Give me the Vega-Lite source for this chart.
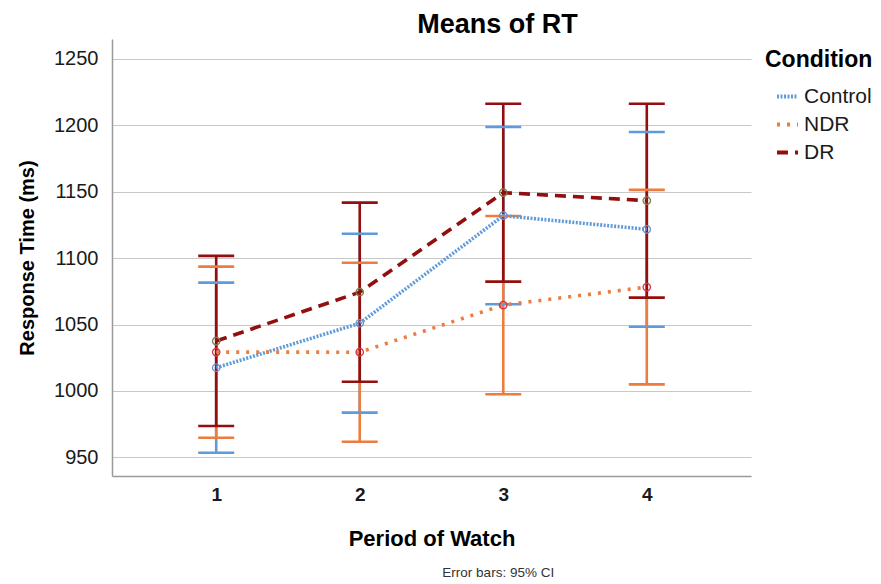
{
  "$schema": "https://vega.github.io/schema/vega-lite/v6.json",
  "padding": {"left": 17, "top": 11, "right": 0, "bottom": 0},
  "background": "white",
  "config": {
    "font": "Liberation Sans",
    "view": {"stroke": null},
    "axis": {"labelFont": "Liberation Sans", "titleFont": "Liberation Sans", "labelColor": "#1a1a1a", "titleColor": "#000000", "domainColor": "#9a9a9a", "domainWidth": 1.5, "ticks": false, "gridColor": "#c8c8c8", "gridWidth": 1.2}
  },
  "datasets": {
    "rt": [
      {"period": 1, "condition": "Control", "mean": 1017.5, "lo": 953.5, "hi": 1081.6},
      {"period": 2, "condition": "Control", "mean": 1051.0, "lo": 983.7, "hi": 1118.4},
      {"period": 3, "condition": "Control", "mean": 1132.0, "lo": 1065.3, "hi": 1198.8},
      {"period": 4, "condition": "Control", "mean": 1121.7, "lo": 1048.4, "hi": 1195.0},
      {"period": 1, "condition": "NDR", "mean": 1029.3, "lo": 964.8, "hi": 1093.6},
      {"period": 2, "condition": "NDR", "mean": 1029.2, "lo": 961.8, "hi": 1096.6},
      {"period": 3, "condition": "NDR", "mean": 1064.7, "lo": 997.5, "hi": 1131.8},
      {"period": 4, "condition": "NDR", "mean": 1078.2, "lo": 1005.0, "hi": 1151.4},
      {"period": 1, "condition": "DR", "mean": 1037.6, "lo": 973.6, "hi": 1101.7},
      {"period": 2, "condition": "DR", "mean": 1074.4, "lo": 1007.0, "hi": 1141.8},
      {"period": 3, "condition": "DR", "mean": 1149.3, "lo": 1082.3, "hi": 1216.3},
      {"period": 4, "condition": "DR", "mean": 1143.3, "lo": 1070.3, "hi": 1216.3}
    ]
  },
  "title": {"text": "Error bars: 95% CI", "orient": "bottom", "anchor": "middle", "fontSize": 13.5, "fontWeight": "normal", "color": "#333333", "font": "Liberation Sans", "dx": 53, "offset": 17},
  "vconcat": [
    {
      "width": 639,
      "height": 437,
      "title": {"text": "Means of RT", "fontSize": 27, "fontWeight": "bold", "color": "#000000", "anchor": "middle", "dx": 66, "offset": 0, "font": "Liberation Sans"},
      "data": {"name": "rt"},
      "encoding": {
        "x": {"field": "period", "type": "ordinal", "scale": {"type": "point", "padding": 0.726},
          "axis": {"labelAngle": 0, "labelFontSize": 19, "labelFontWeight": "bold", "labelPadding": 9, "title": "Period of Watch", "titleFontSize": 22, "titleFontWeight": "bold", "titlePadding": 24, "grid": false}}
      },
      "layer": [
        {
          "mark": {"type": "rule", "strokeWidth": 2.6},
          "encoding": {
            "y": {"field": "lo", "type": "quantitative", "scale": {"domain": [936, 1265], "nice": false, "zero": false},
              "axis": {"values": [950, 1000, 1050, 1100, 1150, 1200, 1250], "format": "d", "labelFontSize": 20, "labelPadding": 14, "title": "Response Time (ms)", "titleFontSize": 20, "titleFontWeight": "bold", "titlePadding": 16}},
            "y2": {"field": "hi"},
            "color": {"field": "condition", "type": "nominal", "scale": {"domain": ["Control", "NDR", "DR"], "range": ["#5f9bd8", "#ec7d3f", "#930f0f"]},
              "legend": {"title": "Condition", "orient": "none", "legendX": 653, "legendY": 10, "titleFontSize": 23, "titleFontWeight": "bold", "titleColor": "#000000", "titlePadding": 12, "labelFontSize": 21, "labelColor": "#1a1a1a", "symbolType": "stroke", "symbolSize": 441, "symbolStrokeWidth": 4, "symbolOffset": 10, "labelOffset": 4, "rowPadding": 5}}
          }
        },
        {
          "mark": {"type": "tick", "thickness": 2.6, "size": 36, "orient": "horizontal", "opacity": 1},
          "encoding": {
            "y": {"field": "lo", "type": "quantitative"},
            "color": {"field": "condition", "type": "nominal"}
          }
        },
        {
          "mark": {"type": "tick", "thickness": 2.6, "size": 36, "orient": "horizontal", "opacity": 1},
          "encoding": {
            "y": {"field": "hi", "type": "quantitative"},
            "color": {"field": "condition", "type": "nominal"}
          }
        },
        {
          "mark": {"type": "line", "strokeWidth": 3.6},
          "encoding": {
            "y": {"field": "mean", "type": "quantitative"},
            "color": {"field": "condition", "type": "nominal"},
            "strokeDash": {"field": "condition", "type": "nominal", "scale": {"domain": ["Control", "NDR", "DR"], "range": [[2, 1.5], [3, 7], [11, 7]]}}
          }
        },
        {
          "mark": {"type": "point", "shape": "circle", "filled": false, "size": 55, "strokeWidth": 1.3, "opacity": 1},
          "encoding": {
            "y": {"field": "mean", "type": "quantitative"},
            "stroke": {"field": "condition", "type": "nominal", "scale": {"domain": ["Control", "NDR", "DR"], "range": ["#6f8fd0", "#d8324a", "#7d7d50"]}, "legend": null}
          }
        }
      ]
    }
  ]
}
